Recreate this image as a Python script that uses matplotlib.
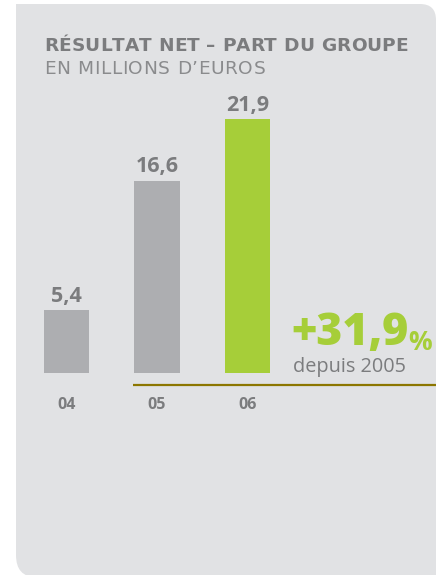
import matplotlib
matplotlib.use("Agg")
import matplotlib.pyplot as plt
from matplotlib.path import Path
from matplotlib.patches import PathPatch

# ---- data ----
years = ["04", "05", "06"]
values = [5.4, 16.6, 21.9]
value_labels = ["5,4", "16,6", "21,9"]
title = "RÉSULTAT NET – PART DU GROUPE"
subtitle = "EN MILLIONS D\u2019EUROS"
growth_text = "+31,9"
growth_unit = "%"
growth_note = "depuis 2005"

# ---- style ----
W, H = 436, 575
panel_c = "#E1E2E4"
bar_grey = "#ADAEB1"
green = "#A6CE39"
text_grey = "#7B7C7E"
sub_grey = "#8A8B8D"
gold = "#8C7600"
FONT = "Open Sans"
HEAD_FONT = "DejaVu Sans"

fig = plt.figure(figsize=(W / 100, H / 100), dpi=100)
fig.patch.set_facecolor("white")
renderer = fig.canvas.get_renderer()

# background axes in pixel coordinates
bg = fig.add_axes([0, 0, 1, 1])
bg.set_xlim(0, W)
bg.set_ylim(H, 0)
bg.axis("off")

verts = [(16, 4), (420, 4), (436, 4), (436, 20), (436, H + 2), (36, H + 2),
         (16, H + 2), (16, 555), (16, 4)]
codes = [Path.MOVETO, Path.LINETO, Path.CURVE3, Path.CURVE3, Path.LINETO,
         Path.LINETO, Path.CURVE3, Path.CURVE3, Path.CLOSEPOLY]
bg.add_patch(PathPatch(Path(verts, codes), facecolor=panel_c, edgecolor="none"))


def advance(ch, **kw):
    a = bg.text(0, 0, "H" + ch + "H", **kw)
    b = bg.text(0, 0, "HH", **kw)
    w = a.get_window_extent(renderer).width - b.get_window_extent(renderer).width
    a.remove()
    b.remove()
    return w


def tracked_text(x, y, s, target_width, **kw):
    widths = [advance(ch, **kw) for ch in s]
    last = bg.text(0, 0, s[-1], **kw)
    last_w = last.get_window_extent(renderer).width
    last.remove()
    natural = sum(widths[:-1]) + last_w
    spacing = (target_width - natural) / (len(s) - 1)
    cur = x
    for ch, w in zip(s, widths):
        bg.text(cur, y, ch, va="baseline", ha="left", **kw)
        cur += w + spacing


tracked_text(44, 51, title, 364, fontsize=13.3, fontweight="bold",
             color=text_grey, family=HEAD_FONT)
tracked_text(44, 74, subtitle, 221, fontsize=13.3, fontweight="normal",
             color=sub_grey, family=HEAD_FONT)

# main chart axes
px_per_unit = 11.58
x0_px, x_scale = 66.5, 90.5
left_px, right_px, top_px, base_px = 16, 436, 4, 373
ax = fig.add_axes([left_px / W, 1 - base_px / H, (right_px - left_px) / W,
                   (base_px - top_px) / H])
ax.set_facecolor("none")
ax.set_xlim((left_px - x0_px) / x_scale, (right_px - x0_px) / x_scale)
ax.set_ylim(0, (base_px - top_px) / px_per_unit)
for s in ax.spines.values():
    s.set_visible(False)
ax.set_yticks([])

xs = list(range(len(years)))
colors = [bar_grey] * (len(years) - 1) + [green]
ax.bar(xs, values, width=0.5, color=colors, zorder=2)
for x, v, lab in zip(xs, values, value_labels):
    ax.annotate(lab, (x, v), xytext=(0, 2.5), textcoords="offset points",
                ha="center", va="bottom", fontsize=15.5, fontweight="bold",
                color=text_grey, family=FONT)

ax.set_xticks(xs)
ax.set_xticklabels(years, fontsize=11.5, fontweight="bold", color=text_grey,
                   family=FONT)
ax.tick_params(axis="x", length=0, pad=17)

# gold line under the last two years
line_y = -(385 - base_px) / px_per_unit
ax.plot([xs[1] - 0.26, ax.get_xlim()[1]], [line_y, line_y], color=gold,
        lw=1.6, clip_on=False, solid_capstyle="butt")

# growth annotation
t = bg.text(291, 345, growth_text, fontsize=32, fontweight=800,
            color=green, family=FONT, va="baseline", ha="left")
bg.annotate(growth_unit, xy=(1, 0), xycoords=t, xytext=(0, 0),
            textcoords="offset points", fontsize=19, fontweight="bold",
            color=green, family=FONT, va="bottom", ha="left")
bg.text(293, 372, growth_note, fontsize=14.3, fontweight="normal",
        color=text_grey, family=FONT, va="baseline", ha="left")

fig.savefig("out.png", dpi=100, facecolor="white")
